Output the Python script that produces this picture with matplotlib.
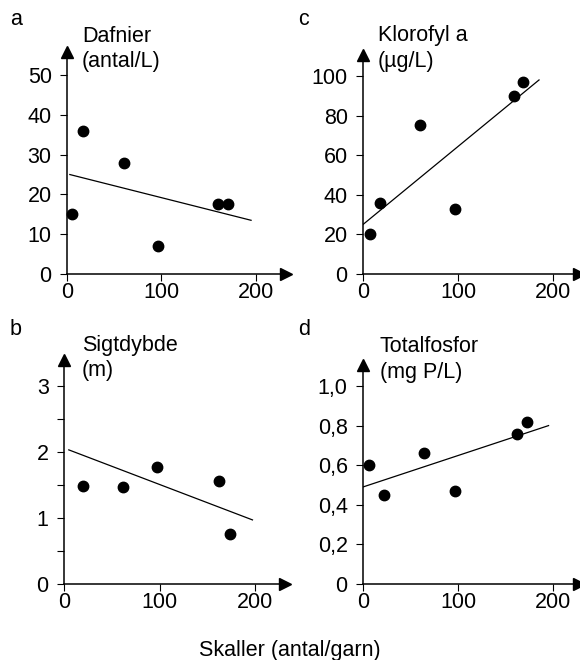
import numpy as np
import matplotlib.pyplot as plt
from matplotlib.ticker import FixedLocator, FixedFormatter

plt.rcParams['font.family'] = ['Liberation Sans', 'DejaVu Sans']
plt.rcParams['font.size'] = 15.5

W, H = 580, 660

# Skaller (antal/garn) paa x-aksen
a_x = [5, 17, 60, 96, 160, 171]
a_y = [15, 36, 28, 7, 17.5, 17.5]
a_trend_x = [3, 195]
a_trend_y = [25, 13.5]

c_x = [7, 18, 60, 97, 159, 168]
c_y = [20, 36, 75, 33, 90, 97]
c_trend_x = [0, 185]
c_trend_y = [25, 98]

b_x = [20, 62, 97, 162, 173]
b_y = [1.48, 1.47, 1.77, 1.56, 0.75]
b_trend_x = [5, 197]
b_trend_y = [2.03, 0.97]

d_x = [6, 22, 64, 97, 162, 172]
d_y = [0.60, 0.45, 0.66, 0.47, 0.76, 0.82]
d_trend_x = [0, 195]
d_trend_y = [0.49, 0.80]

x_ticks = [0, 100, 200]
a_ticks = [0, 10, 20, 30, 40, 50]
c_ticks = [0, 20, 40, 60, 80, 100]
b_ticks = [0, 1, 2, 3]
b_minor = [0.5, 1.5, 2.5]
d_ticks = [0, 0.2, 0.4, 0.6, 0.8, 1.0]
d_labels = ['0', '0,2', '0,4', '0,6', '0,8', '1,0']

fig = plt.figure(figsize=(W / 100, H / 100), dpi=100)


def px_axes(left, right, top, bottom):
    return fig.add_axes([left / W, 1 - bottom / H, (right - left) / W, (bottom - top) / H])


def setup(ax, xmax, ymax, yticks, ylabels=None, minor=None):
    ax.set_xlim(0, xmax)
    ax.set_ylim(0, ymax)
    for s in ['top', 'right']:
        ax.spines[s].set_visible(False)
    for s in ['left', 'bottom']:
        ax.spines[s].set_linewidth(1.1)
    ax.plot(1, 0, '>k', ms=8, transform=ax.transAxes, clip_on=False)
    ax.plot(0, 1, '^k', ms=8, transform=ax.transAxes, clip_on=False)
    ax.set_xticks(x_ticks)
    ax.set_yticks(yticks)
    if ylabels is not None:
        ax.yaxis.set_major_formatter(FixedFormatter(ylabels))
    if minor is not None:
        ax.yaxis.set_minor_locator(FixedLocator(minor))
        ax.tick_params(axis='y', which='minor', length=5, width=0.8)
    ax.tick_params(axis='x', length=5, width=0.8, pad=1)
    ax.tick_params(axis='y', which='major', length=5, width=0.8, pad=6)


def panel(ax, x, y, tx, ty):
    ax.plot(tx, ty, color='black', lw=0.9)
    ax.plot(x, y, 'o', color='black', ms=7.5, clip_on=False)


ax_a = px_axes(67, 286, 52, 274)
setup(ax_a, 232, 55.8, a_ticks)
panel(ax_a, a_x, a_y, a_trend_x, a_trend_y)

ax_c = px_axes(363, 579, 55, 274)
setup(ax_c, 227, 110.6, c_ticks)
panel(ax_c, c_x, c_y, c_trend_x, c_trend_y)

ax_b = px_axes(64, 285, 360, 584)
setup(ax_b, 231, 3.39, b_ticks, minor=b_minor)
panel(ax_b, b_x, b_y, b_trend_x, b_trend_y)

ax_d = px_axes(363, 579, 365, 584)
setup(ax_d, 227, 1.106, d_ticks, ylabels=d_labels)
panel(ax_d, d_x, d_y, d_trend_x, d_trend_y)


def ftext(x, y, s, **kw):
    fig.text(x / W, 1 - y / H, s, va='baseline', **kw)


ftext(10, 25, 'a')
ftext(298, 25, 'c')
ftext(10, 335, 'b')
ftext(298, 335, 'd')

ftext(82, 42, 'Dafnier')
ftext(82, 67, '(antal/L)')
ftext(378, 41, 'Klorofyl a')
ftext(378, 67, '(µg/L)')
ftext(82, 351, 'Sigtdybde')
ftext(82, 376, '(m)')
ftext(380, 352, 'Totalfosfor')
ftext(380, 378, '(mg P/L)')

ftext(290, 656, 'Skaller (antal/garn)', ha='center')

fig.savefig('out.png', dpi=100)
